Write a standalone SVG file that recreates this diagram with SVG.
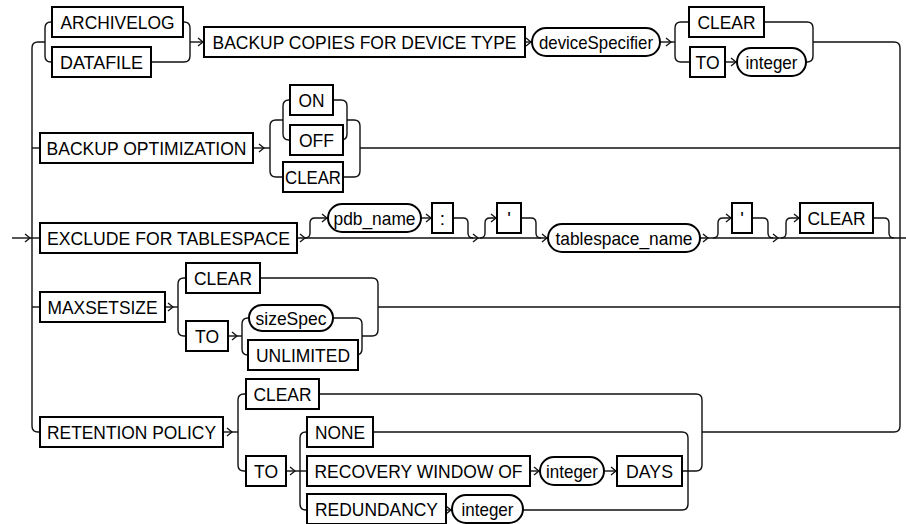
<svg xmlns="http://www.w3.org/2000/svg" xmlns:xlink="http://www.w3.org/1999/xlink" width="906" height="524" viewBox="0 0 906 524">
<style>
.c{fill:none;stroke:#111;stroke-width:1.4}
.b{fill:#fff;stroke:#000;stroke-width:2}
.t{font-family:"Liberation Sans Narrow","Liberation Sans",Arial,sans-serif;font-size:19px;text-anchor:middle;fill:#000}
</style>
<defs>
<path id="a" d="M-5,-4L0,0L-5,4" fill="none" stroke="#111" stroke-width="1.3"/>
</defs>
<rect width="906" height="524" fill="#fff"/>
<g id="connectors">
<path class="c" d="M45,42 H38 Q32,42 32,48 V426 Q32,432 38,432 H40"/>
<path class="c" d="M32,148 H40"/>
<path class="c" d="M12,238 H40"/>
<path class="c" d="M32,307 H40"/>
<path class="c" d="M52,22 H51 Q45,22 45,28 V56 Q45,62 51,62 H52"/>
<path class="c" d="M183,22 H184 Q190,22 190,28 V56 Q190,62 184,62 H151"/>
<path class="c" d="M190,42 H204"/>
<path class="c" d="M525,42 H532"/>
<path class="c" d="M660,42 H675"/>
<path class="c" d="M689,22 H681 Q675,22 675,28 V56 Q675,62 681,62 H690"/>
<path class="c" d="M725,62 H737"/>
<path class="c" d="M764,22 H807 Q813,22 813,28 V56 Q813,62 807,62 H806"/>
<path class="c" d="M813,42 H894 Q900,42 900,48 V426 Q900,432 894,432 H702"/>
<path class="c" d="M253,148 H270"/>
<path class="c" d="M283,120 H276 Q270,120 270,126 V171 Q270,177 276,177 H283"/>
<path class="c" d="M290,100 H289 Q283,100 283,106 V134 Q283,140 289,140 H290"/>
<path class="c" d="M333,100 H341 Q347,100 347,106 V134 Q347,140 341,140 H343"/>
<path class="c" d="M347,120 H354 Q360,120 360,126 V171 Q360,177 354,177 H343"/>
<path class="c" d="M360,148 H900"/>
<path class="c" d="M297,238 H548"/>
<path class="c" d="M305,238 Q310,238 310,233 V223 Q310,218 315,218 H328"/>
<path class="c" d="M421,218 H432"/>
<path class="c" d="M453,218 H463 Q468,218 468,223 V233 Q468,238 473,238"/>
<path class="c" d="M480,238 Q485,238 485,233 V223 Q485,218 490,218 H497"/>
<path class="c" d="M521,218 H531 Q536,218 536,223 V233 Q536,238 541,238"/>
<path class="c" d="M700,238 H906"/>
<path class="c" d="M713,238 Q718,238 718,233 V223 Q718,218 723,218 H732"/>
<path class="c" d="M752,218 H763 Q768,218 768,223 V233 Q768,238 773,238"/>
<path class="c" d="M781,238 Q786,238 786,233 V223 Q786,218 791,218 H800"/>
<path class="c" d="M873,218 H884 Q889,218 889,223 V233 Q889,238 894,238"/>
<path class="c" d="M165,307 H178"/>
<path class="c" d="M186,278 H184 Q178,278 178,284 V330 Q178,336 184,336 H186"/>
<path class="c" d="M228,336 H242"/>
<path class="c" d="M249,318 H248 Q242,318 242,324 V349 Q242,355 248,355"/>
<path class="c" d="M333,318 H356 Q362,318 362,324 V349 Q362,355 356,355 H358"/>
<path class="c" d="M260,278 H372 Q378,278 378,284 V330 Q378,336 372,336 H362"/>
<path class="c" d="M378,307 H900"/>
<path class="c" d="M223,432 H238"/>
<path class="c" d="M246,394 H244 Q238,394 238,400 V465 Q238,471 244,471 H246"/>
<path class="c" d="M286,471 H307"/>
<path class="c" d="M307,432 H306 Q300,432 300,438 V504 Q300,510 306,510 H307"/>
<path class="c" d="M530,471 H540"/>
<path class="c" d="M604,471 H617"/>
<path class="c" d="M446,510 H452"/>
<path class="c" d="M373,432 H682 Q688,432 688,438 V504 Q688,510 682,510 H523"/>
<path class="c" d="M319,394 H696 Q702,394 702,400 V465 Q702,471 696,471 H682"/>
<use xlink:href="#a" x="203" y="42"/>
<use xlink:href="#a" x="531" y="42"/>
<use xlink:href="#a" x="671" y="42"/>
<use xlink:href="#a" x="736" y="62"/>
<use xlink:href="#a" x="264" y="148"/>
<use xlink:href="#a" x="30" y="238"/>
<use xlink:href="#a" x="305" y="238"/>
<use xlink:href="#a" x="327" y="218"/>
<use xlink:href="#a" x="431" y="218"/>
<use xlink:href="#a" x="478" y="238"/>
<use xlink:href="#a" x="496" y="218"/>
<use xlink:href="#a" x="547" y="238"/>
<use xlink:href="#a" x="708" y="238"/>
<use xlink:href="#a" x="731" y="218"/>
<use xlink:href="#a" x="778" y="238"/>
<use xlink:href="#a" x="799" y="218"/>
<use xlink:href="#a" x="173" y="307"/>
<use xlink:href="#a" x="237" y="336"/>
<use xlink:href="#a" x="232" y="432"/>
<use xlink:href="#a" x="295" y="471"/>
<use xlink:href="#a" x="539" y="471"/>
<use xlink:href="#a" x="616" y="471"/>
<use xlink:href="#a" x="451" y="510"/>
</g>
<g id="n1"><rect class="b" x="52" y="7" width="131" height="30"/><text class="t" x="117.5" y="29" textLength="114" lengthAdjust="spacingAndGlyphs">ARCHIVELOG</text></g>
<g id="n2"><rect class="b" x="52" y="47" width="99" height="30"/><text class="t" x="101.5" y="69" textLength="83" lengthAdjust="spacingAndGlyphs">DATAFILE</text></g>
<g id="n3"><rect class="b" x="204" y="27" width="321" height="30"/><text class="t" x="364.5" y="49" textLength="304" lengthAdjust="spacingAndGlyphs">BACKUP COPIES FOR DEVICE TYPE</text></g>
<g id="n4"><rect class="b" x="532" y="28" width="128" height="28" rx="14"/><text class="t" x="596" y="49" textLength="114" lengthAdjust="spacingAndGlyphs">deviceSpecifier</text></g>
<g id="n5"><rect class="b" x="689" y="7" width="75" height="30"/><text class="t" x="726.5" y="29" textLength="58" lengthAdjust="spacingAndGlyphs">CLEAR</text></g>
<g id="n6"><rect class="b" x="690" y="47" width="35" height="30"/><text class="t" x="707.5" y="69" textLength="24" lengthAdjust="spacingAndGlyphs">TO</text></g>
<g id="n7"><rect class="b" x="737" y="48" width="69" height="28" rx="14"/><text class="t" x="771.5" y="69" textLength="52" lengthAdjust="spacingAndGlyphs">integer</text></g>
<g id="n8"><rect class="b" x="40" y="133" width="213" height="30"/><text class="t" x="146.5" y="155" textLength="200" lengthAdjust="spacingAndGlyphs">BACKUP OPTIMIZATION</text></g>
<g id="n9"><rect class="b" x="290" y="85" width="43" height="30"/><text class="t" x="311.5" y="107" textLength="26" lengthAdjust="spacingAndGlyphs">ON</text></g>
<g id="n10"><rect class="b" x="290" y="125" width="53" height="30"/><text class="t" x="316.5" y="147" textLength="35" lengthAdjust="spacingAndGlyphs">OFF</text></g>
<g id="n11"><rect class="b" x="283" y="162" width="60" height="30"/><text class="t" x="313" y="184" textLength="56" lengthAdjust="spacingAndGlyphs">CLEAR</text></g>
<g id="n12"><rect class="b" x="40" y="223" width="257" height="30"/><text class="t" x="168.5" y="245" textLength="243" lengthAdjust="spacingAndGlyphs">EXCLUDE FOR TABLESPACE</text></g>
<g id="n13"><rect class="b" x="328" y="204" width="93" height="28" rx="14"/><text class="t" x="374.5" y="225" textLength="82" lengthAdjust="spacingAndGlyphs">pdb_name</text></g>
<g id="n14"><rect class="b" x="432" y="203" width="21" height="30"/><text class="t" x="442.5" y="225">:</text></g>
<g id="n15"><rect class="b" x="497" y="203" width="24" height="30"/><text class="t" x="509" y="225">'</text></g>
<g id="n16"><rect class="b" x="548" y="224" width="152" height="28" rx="14"/><text class="t" x="624" y="245" textLength="137" lengthAdjust="spacingAndGlyphs">tablespace_name</text></g>
<g id="n17"><rect class="b" x="732" y="203" width="20" height="30"/><text class="t" x="742" y="225">'</text></g>
<g id="n18"><rect class="b" x="800" y="203" width="73" height="30"/><text class="t" x="836.5" y="225" textLength="58" lengthAdjust="spacingAndGlyphs">CLEAR</text></g>
<g id="n19"><rect class="b" x="40" y="292" width="125" height="30"/><text class="t" x="102.5" y="314" textLength="110" lengthAdjust="spacingAndGlyphs">MAXSETSIZE</text></g>
<g id="n20"><rect class="b" x="186" y="263" width="74" height="30"/><text class="t" x="223" y="285" textLength="58" lengthAdjust="spacingAndGlyphs">CLEAR</text></g>
<g id="n21"><rect class="b" x="186" y="321" width="42" height="30"/><text class="t" x="207" y="343" textLength="24" lengthAdjust="spacingAndGlyphs">TO</text></g>
<g id="n22"><rect class="b" x="249" y="305" width="84" height="26" rx="13"/><text class="t" x="291" y="325" textLength="71" lengthAdjust="spacingAndGlyphs">sizeSpec</text></g>
<g id="n23"><rect class="b" x="248" y="340" width="110" height="30"/><text class="t" x="303" y="362" textLength="94" lengthAdjust="spacingAndGlyphs">UNLIMITED</text></g>
<g id="n24"><rect class="b" x="40" y="417" width="183" height="30"/><text class="t" x="131.5" y="439" textLength="169" lengthAdjust="spacingAndGlyphs">RETENTION POLICY</text></g>
<g id="n25"><rect class="b" x="246" y="379" width="73" height="30"/><text class="t" x="282.5" y="401" textLength="58" lengthAdjust="spacingAndGlyphs">CLEAR</text></g>
<g id="n26"><rect class="b" x="246" y="456" width="40" height="30"/><text class="t" x="266" y="478" textLength="24" lengthAdjust="spacingAndGlyphs">TO</text></g>
<g id="n27"><rect class="b" x="307" y="417" width="66" height="30"/><text class="t" x="340" y="439" textLength="50" lengthAdjust="spacingAndGlyphs">NONE</text></g>
<g id="n28"><rect class="b" x="307" y="456" width="223" height="30"/><text class="t" x="418.5" y="478" textLength="208" lengthAdjust="spacingAndGlyphs">RECOVERY WINDOW OF</text></g>
<g id="n29"><rect class="b" x="540" y="457" width="64" height="28" rx="14"/><text class="t" x="572" y="478" textLength="52" lengthAdjust="spacingAndGlyphs">integer</text></g>
<g id="n30"><rect class="b" x="617" y="456" width="65" height="30"/><text class="t" x="649.5" y="478" textLength="47" lengthAdjust="spacingAndGlyphs">DAYS</text></g>
<g id="n31"><rect class="b" x="307" y="494" width="139" height="30"/><text class="t" x="376.5" y="516" textLength="123" lengthAdjust="spacingAndGlyphs">REDUNDANCY</text></g>
<g id="n32"><rect class="b" x="452" y="495" width="71" height="28" rx="14"/><text class="t" x="487.5" y="516" textLength="52" lengthAdjust="spacingAndGlyphs">integer</text></g>
</svg>
